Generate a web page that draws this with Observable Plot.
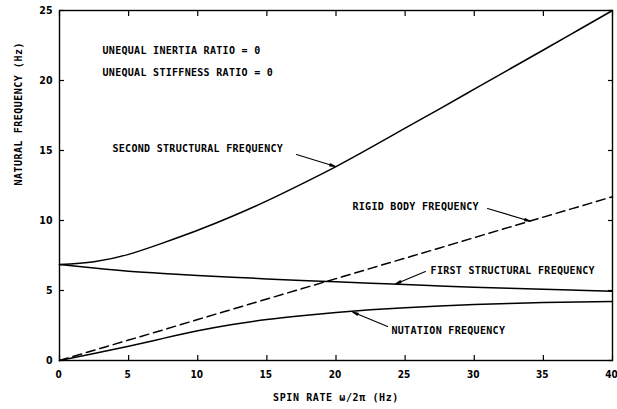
<!DOCTYPE html>
<html><head><meta charset="utf-8">
<script src="https://cdn.jsdelivr.net/npm/d3@7"></script>
<script src="https://cdn.jsdelivr.net/npm/@observablehq/plot@0.6"></script>
<style>
body{margin:0;background:#fff}
#chart svg{display:block}
</style>
</head><body><div id="chart"></div>
<script>
const spinRate = [0,2.5,5,7.5,10,12.5,15,17.5,20,22.5,25,27.5,30,32.5,35,37.5,40];
const secondStructural = [6.85,7.05,7.58,8.4,9.3,10.3,11.4,12.6,13.85,15.2,16.6,17.98,19.38,20.78,22.18,23.59,25.0];
const firstStructural = [6.86,6.6,6.38,6.22,6.08,5.95,5.83,5.72,5.62,5.52,5.42,5.33,5.24,5.16,5.09,5.02,4.95];
const rigidBody = [0,0.73,1.46,2.19,2.93,3.66,4.39,5.12,5.85,6.58,7.31,8.04,8.78,9.51,10.24,10.97,11.7];
const nutation = [0,0.5,1.02,1.58,2.12,2.57,2.93,3.2,3.43,3.62,3.77,3.9,4.0,4.08,4.14,4.18,4.21];
const xTicks = [0,5,10,15,20,25,30,35,40];
const yTicks = [0,5,10,15,20,25];

const noteText = ["UNEQUAL INERTIA RATIO = 0","UNEQUAL STIFFNESS RATIO = 0","SECOND STRUCTURAL FREQUENCY","RIGID BODY FREQUENCY","FIRST STRUCTURAL FREQUENCY","NUTATION FREQUENCY"];
const noteX = [3.11,3.11,3.83,21.19,26.84,24.01];
const noteY = [22.14,20.57,15.14,11.0,6.43,2.14];
const arrowX1 = [17.14,30.96,26.47,23.73];
const arrowY1 = [14.71,10.86,6.36,2.43];
const arrowX2 = [19.96,34.05,24.3,21.2];
const arrowY2 = [13.86,9.95,5.47,3.46];

const series = [
  {name:"second", values: secondStructural, dash: null},
  {name:"first", values: firstStructural, dash: null},
  {name:"rigid", values: rigidBody, dash: "9,5"},
  {name:"nutation", values: nutation, dash: null}
];
const lineData = s => spinRate.map((x,i)=>({x, y: s.values[i]}));
const notes = noteText.map((t,i)=>({t, x: noteX[i], y: noteY[i]}));
const arrows = arrowX1.map((x,i)=>({x1:x, y1:arrowY1[i], x2:arrowX2[i], y2:arrowY2[i]}));

const tickFont = "'DejaVu Sans Condensed', 'DejaVu Sans', sans-serif";
const letterFont = "'DejaVu Sans Mono', 'Liberation Mono', monospace";

const chart = Plot.plot({
  width: 617, height: 409,
  marginLeft: 59, marginRight: 5, marginTop: 10, marginBottom: 49,
  style: {fontFamily: tickFont, fontSize: "10px", fontWeight: "bold", color: "#000", background: "#fff"},
  x: {domain: [0,40]},
  y: {domain: [0,25]},
  marks: [
    Plot.frame({stroke: "#000", strokeWidth: 1.4}),
    Plot.axisX(xTicks, {anchor: "bottom", tickSize: -5, fill: "none", label: null, strokeWidth: 1.2}),
    Plot.axisX(xTicks, {anchor: "top", tickSize: -5, fill: "none", label: null, strokeWidth: 1.2}),
    Plot.axisY(yTicks, {anchor: "left", tickSize: -5, fill: "none", label: null, strokeWidth: 1.2}),
    Plot.axisY(yTicks, {anchor: "right", tickSize: -5, fill: "none", label: null, strokeWidth: 1.2}),
    Plot.axisX(xTicks, {anchor: "bottom", tickSize: 0, tickPadding: 10, stroke: "none", label: null, fontSize: 10, dx: -1, fontFamily: tickFont}),
    Plot.axisY(yTicks, {anchor: "left", tickSize: 0, tickPadding: 7, stroke: "none", label: null, fontSize: 10.5, fontFamily: tickFont}),
    ...series.map(s => Plot.line(lineData(s), {x: "x", y: "y", curve: "natural", stroke: "#000", strokeWidth: 1.5, strokeDasharray: s.dash})),
    Plot.arrow(arrows, {x1: "x1", y1: "y1", x2: "x2", y2: "y2", stroke: "#000", strokeWidth: 1.1, headLength: 8, headAngle: 22}),
    Plot.text(notes, {x: "x", y: "y", text: "t", textAnchor: "start", fontSize: 10, fontWeight: "bold", fontFamily: letterFont, fill: "#000", className: "note"}),
    Plot.text(["SPIN RATE ω/2π (Hz)"], {frameAnchor: "bottom", dy: 40, fontSize: 10, fontFamily: letterFont, fill: "#000", className: "xtitle"}),
    Plot.text(["NATURAL FREQUENCY (Hz)"], {frameAnchor: "left", dx: -41, rotate: -90, fontSize: 10, fontFamily: letterFont, fill: "#000", className: "ytitle"})
  ]
});
d3.select(chart).selectAll(".note text").style("letter-spacing", "0.3px");
d3.select(chart).selectAll(".xtitle text").style("letter-spacing", "0.6px");
d3.select(chart).selectAll(".ytitle text").style("letter-spacing", "0.5px");
document.getElementById("chart").appendChild(chart);
</script>
</body></html>
